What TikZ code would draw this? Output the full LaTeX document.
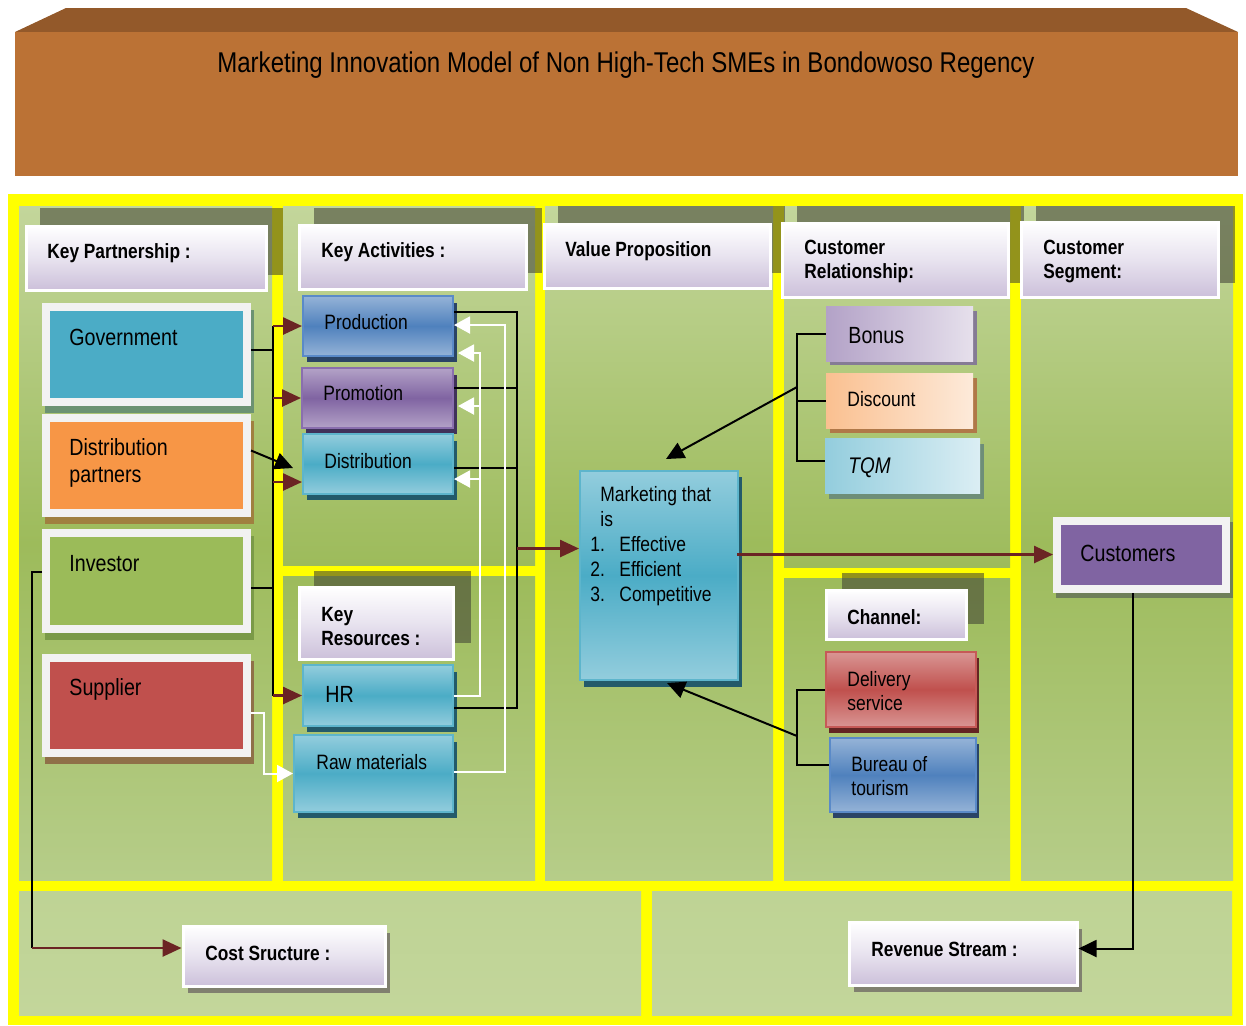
\documentclass[tikz,border=0pt]{standalone}
\usepackage{fontspec}
\setmainfont{Liberation Sans}[FakeStretch=0.84]
\usetikzlibrary{arrows.meta,calc,fit}
\definecolor{ybg}{HTML}{FFFF00}
\definecolor{gtop}{HTML}{C3D69B}
\definecolor{gmid}{HTML}{9DBB5B}
\definecolor{gbot}{HTML}{B6CD89}
\definecolor{gbtop}{HTML}{BED394}
\definecolor{gbbot}{HTML}{C3D69B}
\definecolor{dred}{HTML}{6B2424}
\definecolor{hdr}{HTML}{CCC0DA}
\definecolor{hdrmid}{HTML}{E8E3EF}
\definecolor{brtop}{HTML}{93592A}
\definecolor{brfront}{HTML}{BB7235}
\definecolor{framec}{HTML}{F2F2F2}
\definecolor{govc}{HTML}{4BACC6}
\definecolor{dpc}{HTML}{F79646}
\definecolor{invc}{HTML}{9BBB59}
\definecolor{supc}{HTML}{C0504D}
\definecolor{govsh}{HTML}{6C9272}
\definecolor{dpsh}{HTML}{A08040}
\definecolor{invsh}{HTML}{7A9A48}
\definecolor{supsh}{HTML}{8F7048}
\definecolor{blueL}{HTML}{95B3D7}
\definecolor{blueM}{HTML}{4F81BD}
\definecolor{blueB}{HTML}{5A8AC8}
\definecolor{bluesh}{HTML}{2A4466}
\definecolor{purL}{HTML}{B3A2C7}
\definecolor{purM}{HTML}{8064A2}
\definecolor{purB}{HTML}{8A6FAE}
\definecolor{pursh}{HTML}{40325A}
\definecolor{cyanL}{HTML}{93CDDD}
\definecolor{cyanM}{HTML}{4BACC6}
\definecolor{cyanB}{HTML}{5DB5CC}
\definecolor{cyansh}{HTML}{235A6A}
\definecolor{redL}{HTML}{D99694}
\definecolor{redM}{HTML}{C0504D}
\definecolor{redB}{HTML}{C65A57}
\definecolor{redsh}{HTML}{632523}
\definecolor{bonL}{HTML}{B3A2C7}
\definecolor{bonR}{HTML}{E6E0EC}
\definecolor{bonsh}{HTML}{857B95}
\definecolor{disL}{HTML}{FAC090}
\definecolor{disR}{HTML}{FDEADA}
\definecolor{dissh}{HTML}{B07848}
\definecolor{tqmL}{HTML}{93CDDD}
\definecolor{tqmR}{HTML}{DBEEF4}
\definecolor{tqmsh}{HTML}{6E8E78}
\definecolor{custsh}{HTML}{6F7F5A}
\definecolor{graysh}{HTML}{80806F}
\definecolor{hsh}{RGB}{60,60,50}
\tikzset{
  hshadow/.style={fill=hsh, fill opacity=0.55},
  headbox/.style={draw=white, line width=1.5pt, top color=white, bottom color=hdr, middle color=hdrmid, inner sep=0},
  htext/.style={font=\fontsize{10.3}{12}\selectfont\bfseries, anchor=west, inner sep=0, align=left, yshift=-1pt},
  ftext/.style={font=\fontsize{11.7}{13.5}\selectfont, anchor=west, inner sep=0, align=left, yshift=-1pt},
  itext/.style={font=\fontsize{10.4}{12}\selectfont, anchor=west, inner sep=0, align=left, yshift=-1pt},
  framebox/.style={draw=framec, line width=4pt, fill=#1, inner sep=0},
  gradbox/.style n args={3}{draw=#3, line width=1pt, top color=#1, bottom color=#1, middle color=#2, inner sep=0},
  lrbox/.style n args={2}{left color=#1, right color=#2, draw=none, inner sep=0},
  conn/.style={draw=black, line width=1pt},
  redarr/.style={draw=dred, line width=1.3pt, -{Triangle[length=9.5pt,width=8.5pt]}},
  blkarr/.style={draw=black, line width=1pt, -{Triangle[length=9pt,width=8.5pt]}},
  whtarr/.style={draw=white, line width=1pt, -{Triangle[length=8pt,width=8.5pt]}},
}
\begin{document}
\begin{tikzpicture}[x=0.5pt,y=-0.5pt]
\useasboundingbox (0,0) rectangle (1246,1025);
% banner
\fill[brtop] (15,32) -- (66,8) -- (1186,8) -- (1238,32) -- cycle;
\fill[brfront] (15,32) rectangle (1238,176);
\node[font=\fontsize{14.3}{17}\selectfont, inner sep=0] (title) at (626,65) {Marketing Innovation Model of Non High-Tech SMEs in Bondowoso Regency};
% yellow frame and panels
\fill[ybg] (8,194) rectangle (1243,1025);
\shade[top color=gtop, bottom color=gbot, middle color=gmid] (19,206) rectangle (272,880);
\shade[top color=gtop, bottom color=gmid] (283,206) rectangle (535,565);
\shade[top color=gmid, bottom color=gbot] (283,576) rectangle (535,880);
\shade[top color=gtop, bottom color=gbot, middle color=gmid] (545,206) rectangle (773,880);
\shade[top color=gtop, bottom color=gmid] (784,206) rectangle (1010,567);
\shade[top color=gmid, bottom color=gbot] (784,578) rectangle (1010,880);
\shade[top color=gtop, bottom color=gbot, middle color=gmid] (1021,206) rectangle (1233,880);
\shade[top color=gbtop, bottom color=gbbot] (19,891) rectangle (641,1015);
\shade[top color=gbtop, bottom color=gbbot] (652,891) rectangle (1232,1015);
% header shadows
\fill[hshadow] (40,208) rectangle (283,275);
\fill[hshadow] (314,208) rectangle (542,273);
\fill[hshadow] (558,206) rectangle (785,273);
\fill[hshadow] (797,206) rectangle (1024,283);
\fill[hshadow] (1036,206) rectangle (1235,283);
\fill[hshadow] (314,571) rectangle (471,643);
\fill[hshadow] (842,573) rectangle (984,624);
\fill[graysh] (188,933) rectangle (390,993);
\fill[graysh] (854,929) rectangle (1082,992);
% header boxes
\node[headbox, fit={(26,226)(266,290)}] (hKP) {};
\node[headbox, fit={(299,225)(526,289)}] (hKA) {};
\node[headbox, fit={(544,224)(770,288)}] (hVP) {};
\node[headbox, fit={(782,223)(1008,297)}] (hCR) {};
\node[headbox, fit={(1021,222)(1218,297)}] (hCS) {};
\node[headbox, fit={(299,587)(453,659)}] (hKR) {};
\node[headbox, fit={(826,590)(966,639)}] (hCh) {};
\node[headbox, fit={(183,926)(385,986)}] (hCost) {};
\node[headbox, fit={(849,922)(1077,985)}] (hRev) {};
\node[htext] (tKP) at (47,251) {Key Partnership :};
\node[htext] (tKA) at (321,250) {Key Activities :};
\node[htext] (tVP) at (565,249) {Value Proposition};
\node[htext] (tCR) at (804,259) {Customer\\Relationship:};
\node[htext] (tCS) at (1043,259) {Customer\\Segment:};
\node[htext] (tKR) at (321,624) {Key\\Resources :};
\node[htext] (tCh) at (847,615) {Channel:};
\node[htext] (tCost) at (205,951) {Cost Sructure :};
\node[htext] (tRev) at (871,947) {Revenue Stream :};
% key partnership boxes
\fill[govsh] (45,310) rectangle (254,413);
\fill[dpsh] (45,421) rectangle (254,524);
\fill[invsh] (45,536) rectangle (254,640);
\fill[supsh] (45,661) rectangle (254,764);
\node[framebox=govc, fit={(46,307)(247,402)}] (gov) {};
\node[framebox=dpc, fit={(46,418)(247,513)}] (dp) {};
\node[framebox=invc, fit={(46,533)(247,629)}] (inv) {};
\node[framebox=supc, fit={(46,658)(247,753)}] (sup) {};
\node[ftext] (tgov) at (69,335) {Government};
\node[ftext] (tdp) at (69,461) {Distribution\\partners};
\node[ftext] (tinv) at (69,562) {Investor};
\node[ftext] (tsup) at (69,687) {Supplier};
% key activities / resources
\fill[bluesh] (307,303) rectangle (457,362);
\fill[pursh] (306,375) rectangle (457,434);
\fill[cyansh] (307,441) rectangle (457,500);
\fill[cyansh] (307,672) rectangle (457,732);
\fill[cyansh] (298,742) rectangle (457,818);
\node[gradbox={blueL}{blueM}{blueB}, fit={(303,296)(453,356)}] (prod) {};
\node[gradbox={purL}{purM}{purB}, fit={(302,368)(453,428)}] (prom) {};
\node[gradbox={cyanL}{cyanM}{cyanB}, fit={(303,434)(453,494)}] (dist) {};
\node[gradbox={cyanL}{cyanM}{cyanB}, fit={(303,665)(453,726)}] (hr) {};
\node[gradbox={cyanL}{cyanM}{cyanB}, fit={(294,735)(453,812)}] (raw) {};
\node[itext] (tprod) at (324,320) {Production};
\node[itext] (tprom) at (323,391) {Promotion};
\node[itext] (tdist) at (324,459) {Distribution};
\node[ftext] (thr) at (325,692) {HR};
\node[itext] (traw) at (316,760) {Raw materials};
% value proposition
\fill[cyansh] (584,477) rectangle (742,687);
\node[gradbox={cyanL}{cyanM}{cyanB}, fit={(580,471)(738,680)}] (mkt) {};
\node[font=\fontsize{10.4}{12.5}\selectfont, anchor=west, inner sep=0, align=left, yshift=-1pt] (tmkt) at (590,544)
  {\hspace*{5pt}Marketing that\\\hspace*{5pt}is\\\makebox[14.5pt][l]{1.}Effective\\\makebox[14.5pt][l]{2.}Efficient\\\makebox[14.5pt][l]{3.}Competitive};
% customer relationship
\fill[bonsh] (830,311) rectangle (977,365);
\fill[dissh] (830,378) rectangle (977,433);
\fill[tqmsh] (829,444) rectangle (984,499);
\node[lrbox={bonL}{bonR}, fit={(826,306)(973,361)}] (bonus) {};
\node[lrbox={disL}{disR}, fit={(826,373)(973,428)}] (disc) {};
\node[lrbox={tqmL}{tqmR}, fit={(825,438)(980,493)}] (tqm) {};
\node[ftext] (tbonus) at (848,334) {Bonus};
\node[itext] (tdisc) at (847,397) {Discount};
\node[ftext, font=\fontsize{11.3}{13}\selectfont\itshape] (ttqm) at (848,466) {TQM};
% channel
\fill[redsh] (829,658) rectangle (979,733);
\fill[bluesh] (833,744) rectangle (979,818);
\node[gradbox={redL}{redM}{redB}, fit={(826,652)(976,727)}] (deliv) {};
\node[gradbox={blueL}{blueM}{blueB}, fit={(830,738)(976,812)}] (bur) {};
\node[itext] (tdeliv) at (847,689) {Delivery\\service};
\node[itext] (tbur) at (851,774) {Bureau of\\tourism};
% customers
\fill[custsh] (1056,522) rectangle (1233,598);
\node[framebox=purM, fit={(1057,521)(1226,589)}] (cust) {};
\node[ftext] (tcust) at (1080,551) {Customers};
% ---- connectors ----
\coordinate (lb1) at (273,326);
\coordinate (lb2) at (lb1 |- hr.west);
\draw[conn] (lb1) -- (lb2);
\coordinate (g1) at ($(gov.east)+(0,-5)$);
\draw[conn] (g1) -- (g1 -| lb1);
\coordinate (i1) at ($(inv.east)+(0,7)$);
\draw[conn] (i1) -- (i1 -| lb1);
\draw[redarr] (lb1 |- prod.west) -- (prod.west);
\draw[redarr] (lb1 |- prom.west) -- (prom.west);
\coordinate (d1) at ($(dist.west)+(0,18)$);
\draw[redarr] (lb1 |- d1) -- (d1);
\draw[redarr] (lb2) -- (hr.west);
\draw[blkarr] ($(dp.east)+(0,-15)$) -- ($(dist.west)+(-9,4)$);
\draw[whtarr] ($(sup.east)+(0,7)$) -| ($(raw.west)+(-29,0)$) -- (raw.west);
\coordinate (cc) at (32,948);
\draw[conn] ($(inv.west)+(0,-9)$) -| (cc);
\draw[redarr] (cc) -- (cc -| hCost.west);
% right bus of key activities
\coordinate (rbx) at (517,312);
\coordinate (pe) at ($(prod.east)+(0,-14)$);
\coordinate (pre) at ($(prom.east)+(0,-10)$);
\coordinate (de) at ($(dist.east)+(0,4)$);
\coordinate (he) at ($(hr.east)+(0,12)$);
\draw[conn] (pe) -- (pe -| rbx) -- (he -| rbx) -- (he);
\draw[conn] (pre) -- (pre -| rbx);
\draw[conn] (de) -- (de -| rbx);
\coordinate (me) at ($(mkt.west)+(0,-27)$);
\draw[redarr] (me -| rbx) -- (me);
% white feedback lines
\coordinate (wx1) at (505,325);
\coordinate (re) at ($(raw.east)+(0,-2)$);
\draw[whtarr] (re) -- (re -| wx1) -- (wx1) -- (wx1 -| prod.east);
\coordinate (wx2) at (480,353);
\draw[whtarr] (hr.east) -- (hr.east -| wx2) -- (wx2) -- ($(wx2 -| prod.east)+(4,0)$);
\coordinate (pw) at ($(prom.east)+(4,8)$);
\draw[whtarr] (wx2 |- pw) -- (pw);
\coordinate (dw) at ($(dist.east)+(0,15)$);
\draw[whtarr] (wx2 |- dw) -- (dw);
% customer relationship bracket
\coordinate (crx) at (797,387);
\coordinate (tw) at ($(tqm.west)+(0,-5)$);
\draw[conn] (bonus.west) -- (bonus.west -| crx) -- (tw -| crx) -- (tw);
\draw[conn] (disc.west) -- (disc.west -| crx);
\draw[blkarr] (crx) -- ($(mkt.north)+(7,-11)$);
% channel bracket
\coordinate (chx) at (797,736);
\coordinate (bw) at ($(bur.west)+(0,-10)$);
\draw[conn] (deliv.west) -- (deliv.west -| chx) -- (bw -| chx) -- (bw);
\draw[blkarr] (chx) -- ($(mkt.south)+(8,2)$);
% marketing to customers
\coordinate (mc) at ($(mkt.east)+(-2,-21)$);
\draw[redarr] (mc) -- (mc -| cust.west);
% customers to revenue
\coordinate (cs) at ($(cust.south)+(-9,0)$);
\draw[blkarr] (cs) |- ($(hRev.east)+(0,-5)$);
\end{tikzpicture}
\end{document}
